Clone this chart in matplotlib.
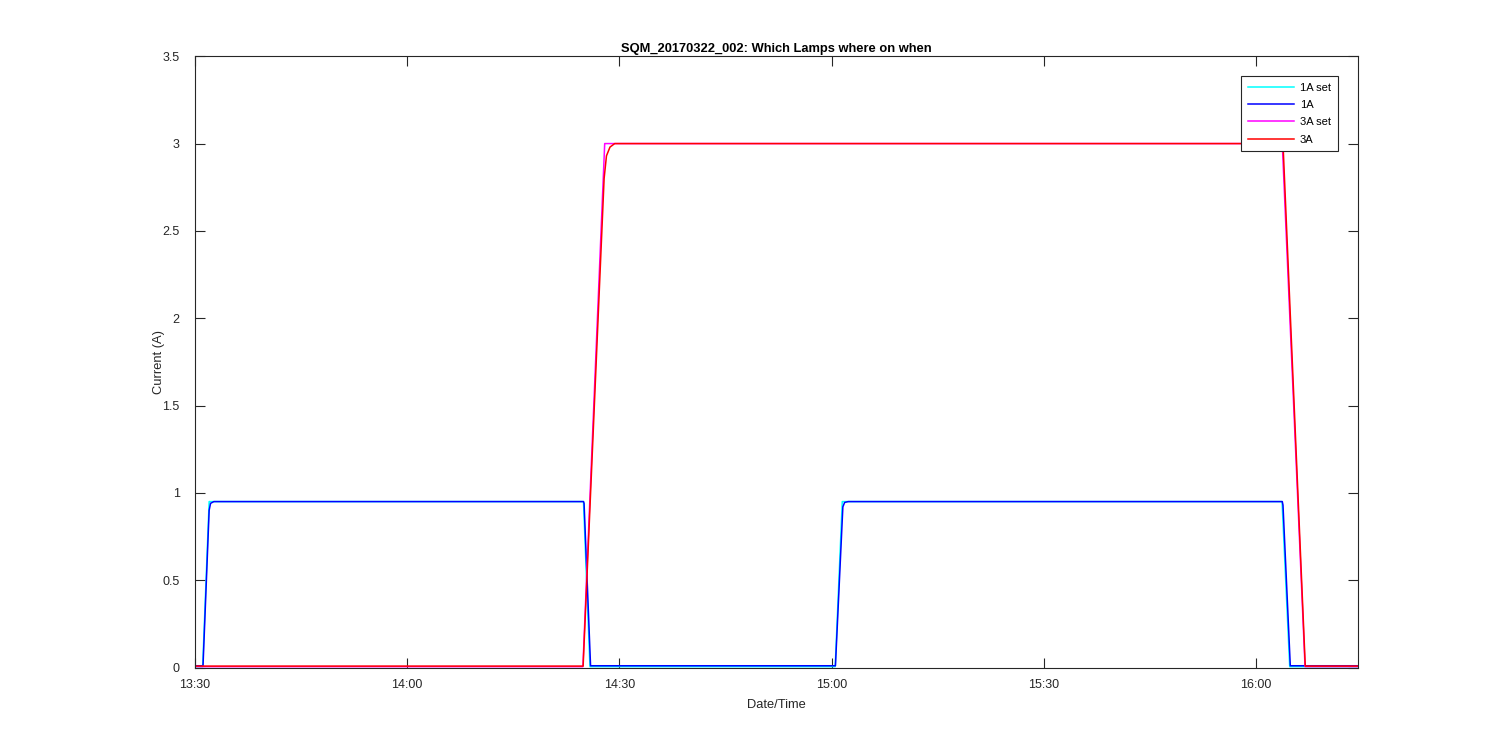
import matplotlib
matplotlib.use("Agg")
import matplotlib.pyplot as plt
import matplotlib.dates as mdates
import pandas as pd

plt.rcParams['font.family'] = ['Liberation Sans', 'DejaVu Sans']

day = "2017-03-22 "

# --- breakpoints (time, current in A) ---
t_1a_set = ["13:30:00", "13:31:05", "13:32:00", "14:24:55", "14:25:50",
            "15:00:30", "15:01:30", "16:03:40", "16:04:45", "16:14:20"]
i_1a_set = [0.005, 0.005, 0.95, 0.95, 0.005,
            0.005, 0.95, 0.95, 0.005, 0.005]

t_1a = ["13:30:00", "13:31:08", "13:32:00", "13:32:12", "13:32:40",
        "14:24:55", "14:25:00", "14:25:55", "15:00:32", "15:01:35",
        "15:01:50", "15:02:20", "16:03:42", "16:03:48", "16:04:50", "16:14:20"]
i_1a = [0.01, 0.01, 0.90, 0.94, 0.95,
        0.95, 0.94, 0.01, 0.01, 0.92,
        0.945, 0.95, 0.95, 0.93, 0.01, 0.01]

t_3a_set = ["13:30:00", "14:24:50", "14:27:55", "16:03:42", "16:06:55", "16:14:20"]
i_3a_set = [0.005, 0.005, 3.0, 3.0, 0.005, 0.005]

t_3a = ["13:30:00", "14:24:52", "14:27:50", "14:28:10", "14:28:40", "14:29:20",
        "16:03:42", "16:03:50", "16:06:57", "16:14:20"]
i_3a = [0.008, 0.008, 2.80, 2.93, 2.98, 3.0,
        3.0, 2.97, 0.008, 0.008]

series = [
    (t_1a_set, i_1a_set, "#00ffff", "1A set"),
    (t_1a, i_1a, "#0000ff", "1A"),
    (t_3a_set, i_3a_set, "#ff00ff", "3A set"),
    (t_3a, i_3a, "#ff0000", "3A"),
]

fig = plt.figure(figsize=(15, 7.5), dpi=100)
ax = fig.add_axes([0.13, 0.11, 0.775, 0.815])

for tt, ii, col, lab in series:
    ax.plot(pd.to_datetime([day + s for s in tt]), ii, color=col, lw=1.1, label=lab)

ax.set_xlim(pd.Timestamp(day + "13:30:00"), pd.Timestamp(day + "16:14:20"))
ax.set_ylim(0, 3.5)
ax.set_yticks([0, 0.5, 1, 1.5, 2, 2.5, 3, 3.5])
ax.set_yticklabels(["0", "0.5", "1", "1.5", "2", "2.5", "3", "3.5"])
ax.xaxis.set_major_locator(mdates.MinuteLocator(byminute=[0, 30]))
ax.xaxis.set_major_formatter(mdates.DateFormatter("%H:%M"))

ax.tick_params(direction='in', length=7, width=0.8, top=True, right=True,
               labelsize=9, colors='#262626')
ax.tick_params(axis='x', pad=8)
ax.tick_params(axis='y', pad=11)
for sp in ax.spines.values():
    sp.set_color('#262626')
    sp.set_linewidth(0.8)

ax.set_xlabel("Date/Time", fontsize=9.3, color='#262626', labelpad=6)
ax.set_ylabel("Current (A)", fontsize=9.3, color='#262626', labelpad=-2)
ax.set_title("SQM_20170322_002: Which Lamps where on when", fontsize=9.3,
             fontweight='bold', color='#000000', pad=3)

leg = ax.legend(loc='upper right', fontsize=8, fancybox=False, framealpha=1,
                edgecolor='#262626', handlelength=4.2, handletextpad=0.5,
                labelspacing=0.65, borderaxespad=1.8, borderpad=0.6)
leg.get_frame().set_linewidth(0.8)

fig.savefig("out.png", dpi=100)
